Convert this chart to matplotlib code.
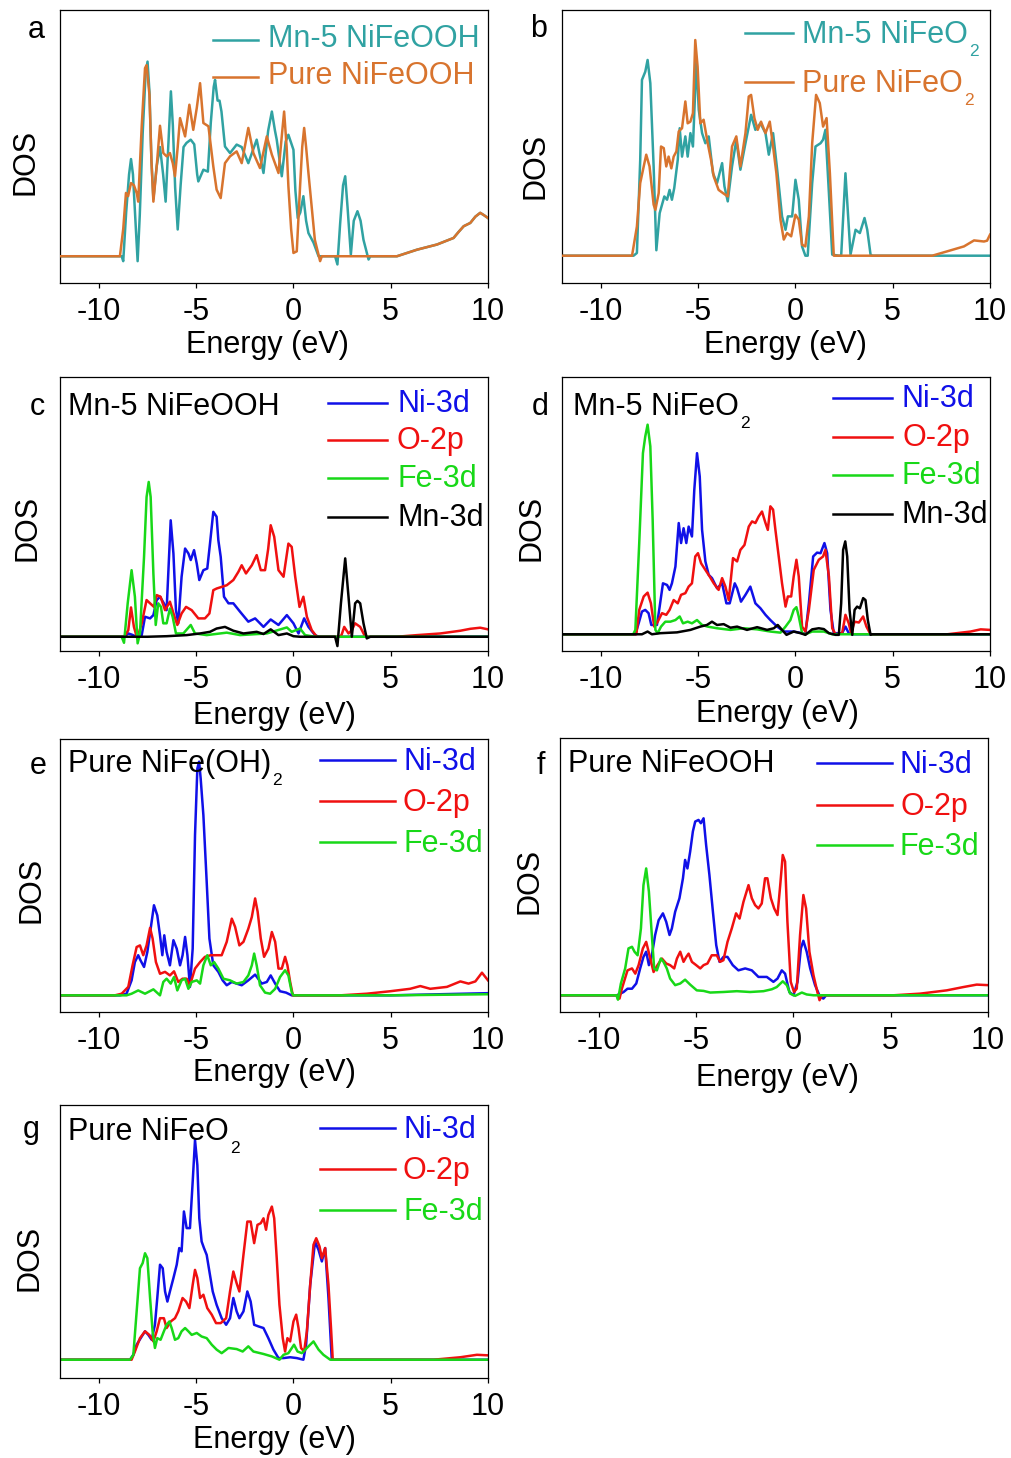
import matplotlib
matplotlib.use("Agg")
import matplotlib.pyplot as plt
from matplotlib.lines import Line2D

plt.rcParams['font.family'] = ['Liberation Sans', 'DejaVu Sans']
plt.rcParams['axes.unicode_minus'] = False

# ---------------- data (energy eV, DOS arb. units) ----------------
xticks = [-10, -5, 0, 5, 10]
xlim = (-12, 10)

a_mn5 = [(-12,0),(-8.83,0),(-8.75,-0.18),(-8.6,1.6),(-8.45,3.0),(-8.35,3.56),(-8.25,3.0),(-8.1,1.0),(-8.01,-0.18),(-7.9,1.5),(-7.75,4.5),(-7.6,6.7),(-7.5,7.13),(-7.4,6.0),(-7.3,3.5),(-7.2,2.1),(-7.03,3.3),(-6.86,4.0),(-6.7,3.0),(-6.57,2.0),(-6.45,3.8),(-6.3,6.04),(-6.2,4.8),(-6.08,2.5),(-5.95,0.98),(-5.8,2.6),(-5.65,4.0),(-5.5,4.15),(-5.28,4.27),(-5.1,4.1),(-4.95,3.0),(-4.89,2.74),(-4.63,3.17),(-4.4,3.1),(-4.25,4.88),(-4.1,6.2),(-4.03,6.46),(-3.9,5.7),(-3.8,5.7),(-3.7,5.3),(-3.52,4.02),(-3.26,3.78),(-2.92,4.09),(-2.66,4.0),(-2.32,3.41),(-1.89,4.27),(-1.54,3.05),(-1.3,4.6),(-1.11,5.3),(-0.95,4.6),(-0.86,4.27),(-0.6,2.93),(-0.4,4.2),(-0.26,4.45),(0,3.9),(0.1,2.4),(0.22,1.4),(0.35,1.6),(0.51,2.2),(0.65,1.3),(0.77,0.85),(1.03,0.5),(1.29,0),(2.14,0),(2.26,-0.3),(2.4,1.2),(2.55,2.6),(2.66,2.93),(2.78,1.8),(2.95,0.06),(3.1,1.3),(3.29,1.65),(3.45,1.3),(3.6,0.6),(3.86,-0.12),(3.95,0),(5.32,0),(6.35,0.24),(7.38,0.43),(8.23,0.67),(8.5,0.9),(8.75,1.1),(9.09,1.22),(9.35,1.45),(9.6,1.59),(9.8,1.5),(10,1.4)]
a_pure = [(-12,0),(-8.92,0),(-8.75,1.0),(-8.61,2.32),(-8.5,2.2),(-8.35,2.68),(-8.2,2.6),(-8.05,2.3),(-7.98,2.0),(-7.8,4.76),(-7.63,6.89),(-7.55,7.0),(-7.4,5.9),(-7.3,3.5),(-7.2,2.0),(-7.03,3.29),(-6.86,4.78),(-6.69,3.78),(-6.52,3.66),(-6.35,3.78),(-6.2,3.4),(-6.09,2.93),(-5.95,4.0),(-5.83,5.06),(-5.57,4.39),(-5.35,5.55),(-5.15,4.63),(-4.97,5.43),(-4.8,6.34),(-4.63,4.88),(-4.37,4.76),(-4.12,3.29),(-3.95,2.44),(-3.74,2.13),(-3.52,3.41),(-3.26,3.66),(-2.92,3.84),(-2.66,3.41),(-2.45,4.2),(-2.32,4.7),(-2.06,3.78),(-1.72,3.23),(-1.37,4.39),(-1.11,3.72),(-0.77,3.05),(-0.6,4.4),(-0.48,5.3),(-0.35,4.0),(-0.26,2.56),(-0.12,1.0),(0,0.12),(0.17,0.18),(0.34,2.56),(0.45,4.0),(0.55,4.7),(0.65,4.0),(0.77,3.05),(1.1,0.6),(1.37,-0.18),(1.46,0),(5.32,0),(6.35,0.24),(7.38,0.43),(8.23,0.67),(8.5,0.9),(8.75,1.1),(9.09,1.22),(9.35,1.45),(9.6,1.59),(9.8,1.5),(10,1.4)]

b_mn5 = [(-12,0),(-8.32,0),(-8.15,0.1),(-7.98,3.5),(-7.89,6.44),(-7.72,6.74),(-7.6,7.17),(-7.46,6.32),(-7.29,3.27),(-7.15,0.2),(-6.98,1.56),(-6.74,2.17),(-6.6,2.05),(-6.47,2.41),(-6.35,2.05),(-6.23,2.48),(-6.05,3.51),(-5.95,4.67),(-5.83,3.63),(-5.66,4.37),(-5.54,3.63),(-5.4,4.49),(-5.27,4.0),(-5.09,7.17),(-4.97,5.34),(-4.8,4.49),(-4.63,4.12),(-4.46,4.37),(-4.24,3.02),(-4.03,2.66),(-3.77,3.39),(-3.65,2.54),(-3.48,1.99),(-3.26,3.27),(-3.04,4.24),(-2.83,3.15),(-2.57,4.12),(-2.28,5.16),(-2.06,4.61),(-1.8,4.85),(-1.54,4.49),(-1.37,3.7),(-1.15,4.49),(-0.94,3.15),(-0.69,1.44),(-0.51,0.95),(-0.39,1.44),(-0.17,1.44),(0,2.78),(0.17,2.05),(0.34,0.34),(0.51,0),(0.63,0),(0.86,2.66),(1.03,4.0),(1.29,4.12),(1.42,4.25),(1.54,4.61),(1.72,2.29),(1.89,0.04),(2.23,0),(2.35,0),(2.57,3.02),(2.83,0.04),(3.09,0.95),(3.31,0.83),(3.55,1.38),(3.69,0.95),(3.86,0.04),(3.95,0),(10,0)]
b_pure = [(-12,0),(-8.4,0),(-8.15,1.07),(-7.98,2.66),(-7.8,3.27),(-7.67,3.7),(-7.5,3.27),(-7.29,1.87),(-7.2,1.68),(-7.03,2.29),(-6.91,4.0),(-6.77,3.94),(-6.64,3.27),(-6.52,3.63),(-6.38,3.2),(-6.26,3.63),(-6.12,3.82),(-6.0,4.55),(-5.83,4.67),(-5.66,5.65),(-5.54,4.85),(-5.4,4.91),(-5.27,5.22),(-5.15,7.9),(-5.03,6.93),(-4.89,4.85),(-4.72,4.98),(-4.51,4.12),(-4.34,3.51),(-4.2,2.9),(-3.95,2.41),(-3.72,2.29),(-3.48,2.17),(-3.26,4.0),(-3.04,4.37),(-2.83,3.27),(-2.57,4.49),(-2.4,5.83),(-2.28,5.89),(-2.11,5.04),(-1.94,4.61),(-1.77,4.91),(-1.54,4.49),(-1.32,4.91),(-1.15,4.0),(-0.98,3.02),(-0.77,1.32),(-0.6,0.59),(-0.43,0.83),(-0.22,0.71),(0,1.5),(0.17,1.32),(0.34,0.4),(0.51,0.34),(0.69,1.44),(0.86,4.12),(1.06,5.89),(1.25,5.59),(1.42,4.73),(1.6,5.04),(1.77,3.02),(1.97,0),(7.03,0),(7.8,0.16),(8.66,0.34),(9.18,0.56),(9.69,0.52),(9.85,0.55),(10,0.77)]

c_ni = [(-12,0),(-8.7,0),(-8.49,0.12),(-8.32,0.08),(-8.06,0),(-7.8,0.06),(-7.63,0.73),(-7.37,0.67),(-7.2,0.79),(-7.03,1.34),(-6.86,1.46),(-6.66,1.22),(-6.52,0.97),(-6.31,4.25),(-6.17,3.04),(-6.04,0.97),(-5.92,0.49),(-5.75,2.19),(-5.57,3.22),(-5.4,3.04),(-5.28,2.8),(-5.11,3.16),(-4.97,2.67),(-4.84,2.07),(-4.63,2.43),(-4.43,2.49),(-4.29,3.4),(-4.12,4.56),(-3.95,4.38),(-3.86,3.52),(-3.74,2.92),(-3.57,1.46),(-3.34,1.22),(-3.09,1.22),(-2.74,0.91),(-2.32,0.55),(-1.97,0.67),(-1.54,0.36),(-1.17,0.63),(-0.77,0.43),(-0.34,0.79),(0,0.49),(0.26,0.12),(0.55,0.67),(0.77,0.36),(1.11,0.06),(1.3,0),(10,0)]
c_o = [(-12,0),(-8.7,0),(-8.49,0.24),(-8.35,1.07),(-8.2,0.36),(-8.03,-0.06),(-7.8,0.49),(-7.55,1.34),(-7.37,1.22),(-7.17,1.09),(-7.03,1.52),(-6.83,1.46),(-6.6,0.97),(-6.35,1.28),(-6.14,0.79),(-5.97,0.43),(-5.75,0.85),(-5.52,1.09),(-5.23,0.97),(-4.89,0.67),(-4.55,0.67),(-4.32,0.85),(-4.12,1.7),(-3.95,1.76),(-3.69,1.82),(-3.43,1.88),(-3.09,2.07),(-2.83,2.37),(-2.66,2.61),(-2.44,2.31),(-2.14,2.61),(-1.89,2.98),(-1.68,2.43),(-1.46,2.43),(-1.3,3.2),(-1.17,4.07),(-0.99,3.65),(-0.77,2.43),(-0.51,2.19),(-0.26,3.4),(-0.09,3.28),(0.09,2.19),(0.31,1.09),(0.51,1.46),(0.69,0.73),(0.94,0.24),(1.2,0),(2.35,0),(2.47,0.06),(2.61,0.36),(2.83,0.12),(3.0,0.24),(3.17,0.49),(3.43,0.36),(3.69,0),(5.3,0),(6.35,0.06),(7.55,0.12),(8.58,0.22),(9.09,0.29),(9.6,0.33),(10,0.27)]
c_fe = [(-12,0),(-8.83,0),(-8.71,-0.22),(-8.52,1.22),(-8.32,2.43),(-8.15,1.46),(-8.01,-0.24),(-7.89,0.12),(-7.68,2.92),(-7.55,5.1),(-7.44,5.65),(-7.34,5.1),(-7.2,2.31),(-7.08,0.43),(-6.95,1.22),(-6.81,1.09),(-6.69,0.49),(-6.52,0.49),(-6.35,1.03),(-6.21,0.73),(-6.04,0.12),(-5.66,0.12),(-5.28,0.43),(-5.06,0.12),(-4.46,0.06),(-3.43,0.15),(-2.74,0.06),(-1.37,0.12),(-0.34,0.34),(-0.09,0.18),(0.34,0.3),(0.6,0.06),(1.11,0),(10,0)]
c_mn = [(-12,0),(-7.5,0),(-6.52,0.02),(-5.49,0.06),(-4.8,0.12),(-4.29,0.18),(-3.95,0.3),(-3.52,0.36),(-3.09,0.22),(-2.57,0.12),(-1.89,0.18),(-1.54,0.1),(-1.17,0.27),(-0.77,0.06),(-0.34,0.12),(0,0.02),(0.34,0),(2.14,0),(2.26,-0.34),(2.44,1.22),(2.66,2.86),(2.83,1.46),(3.0,0),(3.17,1.22),(3.29,1.31),(3.43,1.22),(3.6,0.49),(3.77,-0.06),(3.95,0),(10,0)]

d_ni = [(-12,0),(-8.23,0),(-8.06,0.4),(-7.89,0.83),(-7.72,0.89),(-7.55,0.77),(-7.41,0.34),(-7.12,0.34),(-6.98,1.01),(-6.81,1.86),(-6.6,1.8),(-6.47,1.62),(-6.35,1.86),(-6.17,2.47),(-6.0,4.06),(-5.88,3.33),(-5.75,3.87),(-5.61,3.33),(-5.49,3.93),(-5.32,3.57),(-5.2,5.27),(-5.06,6.61),(-4.92,5.76),(-4.8,3.81),(-4.63,2.66),(-4.46,2.17),(-4.29,2.05),(-4.03,1.68),(-3.77,1.86),(-3.55,1.13),(-3.38,1.13),(-3.12,1.86),(-3.0,1.68),(-2.8,1.19),(-2.57,1.44),(-2.32,1.74),(-2.06,1.13),(-1.8,0.95),(-1.54,0.71),(-1.29,0.52),(-0.94,0.28),(-0.6,0.1),(-0.09,0.1),(0.34,0.04),(0.51,0),(0.69,1.13),(0.91,2.84),(1.11,2.98),(1.29,2.96),(1.49,3.33),(1.63,2.96),(1.8,0.89),(1.97,0.04),(2.4,0.04),(2.57,0.28),(2.74,0.04),(2.9,0),(10,0)]
d_o = [(-12,0),(-8.18,0),(-8.03,0.89),(-7.8,1.38),(-7.6,1.52),(-7.43,1.13),(-7.26,0.28),(-7.08,0.46),(-6.86,0.77),(-6.64,0.71),(-6.47,0.89),(-6.26,1.25),(-6.05,1.13),(-5.88,1.44),(-5.66,1.5),(-5.49,1.74),(-5.32,1.86),(-5.15,2.84),(-5.01,2.96),(-4.85,2.59),(-4.63,2.35),(-4.41,2.11),(-4.2,1.86),(-3.95,1.62),(-3.77,2.05),(-3.6,1.74),(-3.43,1.25),(-3.21,2.78),(-3.0,2.66),(-2.83,3.08),(-2.62,3.26),(-2.4,3.93),(-2.23,4.12),(-2.06,4.06),(-1.89,4.3),(-1.72,4.48),(-1.54,4.06),(-1.42,3.81),(-1.29,4.67),(-1.15,4.55),(-1.03,3.81),(-0.86,2.84),(-0.69,1.86),(-0.51,1.01),(-0.39,1.38),(-0.22,1.38),(-0.09,2.11),(0.05,2.72),(0.17,2.11),(0.34,0.28),(0.51,0.1),(0.69,0.89),(0.94,2.35),(1.2,2.72),(1.42,2.84),(1.54,3.08),(1.72,2.11),(1.89,0.22),(2.06,0),(2.4,0.04),(2.57,0.71),(2.74,0.4),(2.86,0.04),(3.04,0.46),(3.26,0.43),(3.48,0.65),(3.65,0.28),(3.86,0),(7.8,0),(9.0,0.1),(9.52,0.18),(10,0.16)]
d_fe = [(-12,0),(-8.34,0),(-8.23,0.16),(-8.03,3.33),(-7.84,6.61),(-7.72,7.22),(-7.6,7.65),(-7.46,6.86),(-7.34,4.18),(-7.2,0.16),(-7.08,0.04),(-6.91,0.28),(-6.69,0.46),(-6.43,0.46),(-6.17,0.52),(-5.95,0.65),(-5.78,0.4),(-5.54,0.46),(-5.32,0.4),(-5.06,0.52),(-4.8,0.34),(-4.51,0.28),(-4.03,0.22),(-3.34,0.16),(-2.66,0.22),(-1.97,0.18),(-1.29,0.1),(-0.77,0.06),(-0.51,0.28),(-0.26,0.52),(-0.09,0.89),(0.05,0.99),(0.17,0.65),(0.34,0.04),(0.51,0),(0.86,0.1),(1.46,0.1),(1.89,0),(10,0)]
d_mn = [(-12,0),(-7.89,0),(-7.6,0.1),(-7.38,0),(-6.95,0.04),(-6.09,0.07),(-5.4,0.16),(-4.89,0.28),(-4.55,0.34),(-4.29,0.46),(-4.03,0.34),(-3.69,0.37),(-3.34,0.24),(-3.0,0.28),(-2.49,0.16),(-1.97,0.26),(-1.46,0.16),(-1.11,0.22),(-0.91,0.34),(-0.69,0.16),(-0.46,-0.02),(-0.09,0.1),(0.26,0.04),(0.51,-0.02),(0.86,0.18),(1.2,0.22),(1.46,0.19),(1.72,0.04),(2.06,-0.02),(2.23,-0.02),(2.35,1.13),(2.45,3.08),(2.56,3.39),(2.66,2.84),(2.78,0.89),(2.92,-0.02),(3.04,0.89),(3.17,1.01),(3.31,0.95),(3.48,1.32),(3.6,1.25),(3.72,0.52),(3.86,-0.02),(3.95,0),(10,0)]

e_ni = [(-12,0),(-8.92,0),(-8.58,0.06),(-8.32,0.55),(-8.15,1.22),(-7.98,1.47),(-7.86,1.28),(-7.68,1.04),(-7.51,1.59),(-7.34,2.44),(-7.17,3.3),(-7.0,2.93),(-6.86,2.2),(-6.74,1.47),(-6.64,2.2),(-6.52,1.59),(-6.35,1.1),(-6.17,2.02),(-6.0,1.71),(-5.83,1.1),(-5.7,1.47),(-5.57,2.14),(-5.45,1.47),(-5.32,0.31),(-5.18,1.71),(-5.06,5.87),(-4.94,8.31),(-4.85,8.56),(-4.77,7.95),(-4.63,6.6),(-4.46,4.16),(-4.32,2.08),(-4.12,1.1),(-3.86,0.86),(-3.64,0.55),(-3.43,0.37),(-3.17,0.49),(-2.92,0.43),(-2.66,0.37),(-2.32,0.55),(-1.97,0.76),(-1.63,0.43),(-1.37,0.49),(-1.17,0.73),(-0.94,0.43),(-0.69,0.15),(-0.38,0.1),(-0.09,0),(5.0,0),(7.5,0.04),(10,0.08)]
e_o = [(-12,0),(-9.18,0),(-8.83,0.06),(-8.49,0.31),(-8.27,1.1),(-8.06,1.77),(-7.89,1.83),(-7.72,1.47),(-7.55,1.83),(-7.37,2.47),(-7.24,2.08),(-7.07,1.22),(-6.86,0.79),(-6.6,0.86),(-6.35,0.73),(-6.14,0.88),(-5.92,0.49),(-5.7,0.61),(-5.49,0.61),(-5.32,0.37),(-5.06,0.98),(-4.8,1.22),(-4.55,1.41),(-4.25,1.47),(-3.95,1.47),(-3.69,1.47),(-3.43,1.96),(-3.17,2.81),(-3.0,2.51),(-2.78,1.83),(-2.57,1.96),(-2.32,2.44),(-2.14,2.87),(-1.97,3.55),(-1.84,3.06),(-1.68,2.08),(-1.51,1.41),(-1.29,1.71),(-1.11,2.32),(-0.94,1.96),(-0.77,0.98),(-0.6,0.98),(-0.43,1.41),(-0.31,1.1),(-0.17,0.49),(-0.03,0),(2.4,0),(3.77,0.06),(4.97,0.15),(6.0,0.24),(6.52,0.34),(7.03,0.24),(7.89,0.31),(8.58,0.51),(9.0,0.43),(9.35,0.51),(9.69,0.83),(10,0.55)]
e_fe = [(-12,0),(-8.58,0),(-8.32,0.06),(-7.98,0.18),(-7.63,0.06),(-7.2,0.22),(-6.86,0),(-6.69,0.49),(-6.52,0.61),(-6.31,0.43),(-6.14,0.67),(-5.97,0.18),(-5.75,0.55),(-5.57,0.61),(-5.4,0.24),(-5.23,0.49),(-4.97,0.55),(-4.8,0.43),(-4.63,1.1),(-4.43,1.47),(-4.25,1.1),(-4.08,1.22),(-3.86,0.98),(-3.6,0.61),(-3.26,0.55),(-2.92,0.43),(-2.57,0.49),(-2.32,0.73),(-2.14,1.1),(-2.02,1.53),(-1.89,1.1),(-1.72,0.37),(-1.46,0.1),(-1.2,0.06),(-0.94,0.24),(-0.69,0.67),(-0.43,0.92),(-0.26,0.73),(-0.09,0.12),(0,0),(5.0,0),(10,0.04)]

f_ni = [(-12,0),(-9.08,0),(-8.9,0.06),(-8.73,0.12),(-8.53,0.24),(-8.3,0.24),(-8.08,0.43),(-7.88,0.98),(-7.71,1.4),(-7.57,1.59),(-7.43,1.1),(-7.28,1.46),(-7.11,2.2),(-6.93,2.74),(-6.71,2.99),(-6.54,2.68),(-6.37,2.2),(-6.25,2.44),(-6.08,3.05),(-5.86,3.54),(-5.68,4.27),(-5.57,4.94),(-5.45,4.63),(-5.31,5.24),(-5.17,5.98),(-5.05,6.34),(-4.88,6.4),(-4.76,6.28),(-4.62,6.46),(-4.49,5.49),(-4.32,4.39),(-4.14,3.05),(-3.97,1.83),(-3.8,1.22),(-3.6,1.4),(-3.39,1.4),(-3.12,1.1),(-2.83,0.91),(-2.48,0.98),(-2.14,0.91),(-1.8,0.67),(-1.37,0.67),(-1.03,0.49),(-0.82,0.61),(-0.6,0.91),(-0.43,0.79),(-0.21,0.12),(0,0),(0.21,0.49),(0.38,1.71),(0.51,1.99),(0.68,1.59),(0.86,0.98),(1.11,0.37),(1.37,-0.06),(1.54,-0.12),(1.68,0),(10,0)]
f_o = [(-12,0),(-9.08,0),(-8.94,-0.12),(-8.82,0.24),(-8.53,0.91),(-8.3,0.98),(-8.13,0.79),(-7.96,1.1),(-7.74,1.71),(-7.57,1.95),(-7.4,1.46),(-7.19,0.85),(-6.99,1.1),(-6.76,1.34),(-6.54,1.16),(-6.34,1.1),(-6.13,0.98),(-5.99,1.34),(-5.82,1.59),(-5.65,1.22),(-5.51,1.4),(-5.39,1.52),(-5.22,1.22),(-5.0,1.1),(-4.79,0.98),(-4.62,1.1),(-4.42,1.16),(-4.2,1.46),(-3.94,1.46),(-3.77,1.22),(-3.6,1.28),(-3.39,1.95),(-3.17,2.44),(-2.95,2.99),(-2.77,2.8),(-2.57,3.41),(-2.31,4.02),(-2.14,3.54),(-1.97,3.29),(-1.8,3.17),(-1.63,3.35),(-1.46,4.27),(-1.34,4.27),(-1.16,3.54),(-0.99,3.17),(-0.82,2.93),(-0.68,4.02),(-0.55,5.12),(-0.43,4.88),(-0.31,2.68),(-0.14,0.49),(0.03,0.12),(0.17,0.24),(0.34,2.2),(0.51,3.66),(0.65,3.17),(0.82,1.59),(1.03,0.73),(1.23,0.12),(1.34,-0.18),(1.46,0),(5.14,0),(6.51,0.06),(7.88,0.18),(8.73,0.3),(9.42,0.39),(10,0.37)]
f_fe = [(-12,0),(-9.1,0),(-9.02,-0.16),(-8.87,0.43),(-8.65,0.98),(-8.48,1.71),(-8.3,1.77),(-8.17,1.59),(-8.01,1.46),(-7.84,2.44),(-7.71,4.02),(-7.57,4.63),(-7.43,3.78),(-7.28,2.2),(-7.16,0.98),(-7.02,0.91),(-6.82,1.34),(-6.68,1.22),(-6.51,0.98),(-6.34,0.61),(-6.08,0.37),(-5.82,0.43),(-5.57,0.57),(-5.31,0.39),(-4.97,0.18),(-4.62,0.16),(-4.28,0.1),(-3.6,0.12),(-2.91,0.15),(-2.23,0.12),(-1.54,0.15),(-1.11,0.22),(-0.86,0.3),(-0.55,0.51),(-0.34,0.37),(-0.17,0.06),(0.09,-0.02),(0.43,0.1),(0.68,0.03),(1.03,0),(10,0)]

g_ni = [(-12,0),(-8.4,0),(-8.23,0.18),(-8.06,0.55),(-7.8,0.85),(-7.63,1.04),(-7.46,0.91),(-7.29,0.73),(-7.12,1.28),(-7.0,2.26),(-6.86,3.48),(-6.72,3.35),(-6.6,2.5),(-6.48,2.13),(-6.35,2.5),(-6.17,2.99),(-6.0,3.48),(-5.87,4.09),(-5.75,3.97),(-5.63,5.43),(-5.49,4.82),(-5.32,4.82),(-5.18,6.52),(-5.06,8.05),(-4.94,7.13),(-4.84,5.18),(-4.72,4.33),(-4.6,4.09),(-4.46,3.84),(-4.32,3.23),(-4.15,2.5),(-3.95,2.01),(-3.69,1.52),(-3.46,1.28),(-3.26,1.52),(-3.09,2.26),(-2.92,1.77),(-2.78,1.52),(-2.57,1.77),(-2.37,2.5),(-2.2,2.13),(-2.02,1.28),(-1.8,1.22),(-1.54,1.16),(-1.29,0.79),(-1.03,0.37),(-0.77,0.06),(-0.51,0.06),(-0.17,0.09),(0.17,0.06),(0.51,0),(0.65,0.55),(0.86,2.74),(1.11,4.33),(1.29,4.02),(1.46,3.6),(1.63,4.09),(1.8,2.26),(1.97,0),(10,0)]
g_o = [(-12,0),(-8.32,0),(-8.15,0.3),(-7.89,0.79),(-7.63,1.04),(-7.41,0.91),(-7.2,0.67),(-7.03,1.04),(-6.86,1.52),(-6.66,1.52),(-6.52,1.16),(-6.31,1.4),(-6.09,1.52),(-5.92,1.77),(-5.7,2.26),(-5.52,2.13),(-5.35,1.89),(-5.18,2.74),(-5.06,3.29),(-4.94,2.99),(-4.8,2.26),(-4.63,2.38),(-4.43,1.89),(-4.2,1.65),(-3.98,1.34),(-3.74,1.34),(-3.46,1.52),(-3.26,2.5),(-3.09,3.23),(-2.92,2.8),(-2.78,2.5),(-2.57,3.84),(-2.37,5.06),(-2.2,5.06),(-2.02,4.27),(-1.85,4.94),(-1.68,5.0),(-1.54,5.18),(-1.41,4.76),(-1.29,5.3),(-1.11,5.61),(-0.99,5.18),(-0.86,3.72),(-0.72,2.01),(-0.55,0.79),(-0.43,0.3),(-0.31,0.79),(-0.17,0.67),(0,1.4),(0.14,1.65),(0.26,1.16),(0.39,0.43),(0.55,0.3),(0.69,1.04),(0.86,2.74),(1.03,4.21),(1.17,4.45),(1.34,4.15),(1.46,3.72),(1.63,4.09),(1.8,2.74),(1.94,1.04),(2.02,0),(7.2,0),(8.58,0.09),(9.43,0.18),(10,0.16)]
g_fe = [(-12,0),(-8.4,0),(-8.23,0.18),(-8.06,1.77),(-7.89,3.35),(-7.75,3.54),(-7.63,3.9),(-7.51,3.72),(-7.37,2.26),(-7.24,1.04),(-7.12,0.43),(-7.0,0.79),(-6.83,0.73),(-6.66,1.04),(-6.52,1.28),(-6.38,1.4),(-6.26,1.16),(-6.09,0.73),(-5.92,0.79),(-5.75,1.04),(-5.57,1.16),(-5.4,1.04),(-5.23,0.91),(-4.97,0.98),(-4.72,0.85),(-4.46,0.79),(-4.2,0.55),(-3.95,0.37),(-3.69,0.24),(-3.34,0.43),(-2.92,0.39),(-2.61,0.3),(-2.32,0.49),(-2.06,0.3),(-1.54,0.21),(-1.11,0.12),(-0.72,0),(-0.51,0.18),(-0.26,0.24),(0.03,0.55),(0.21,0.3),(0.43,0.24),(0.69,0.43),(1.03,0.67),(1.29,0.37),(1.54,0.18),(1.89,0),(10,0)]

# labels (main text, subscript)
lab_mn5_ooh = ('Mn-5 NiFeOOH', '')
lab_pure_ooh = ('Pure NiFeOOH', '')
lab_mn5_o2 = ('Mn-5 NiFeO', '2')
lab_pure_o2 = ('Pure NiFeO', '2')
lab_pure_oh2 = ('Pure NiFe(OH)', '2')
orb_labels = ['Ni-3d', 'O-2p', 'Fe-3d', 'Mn-3d']

# ---------------- style ----------------
TEAL = '#30a2a2'
ORANGE = '#d8742e'
BLUE = '#1010e8'
RED = '#f01010'
GREEN = '#18d818'
BLACK = '#000000'
FS = 22
SUBFS = 12.5
LW = 1.8

W, H = 1011, 1458
fig = plt.figure(figsize=(W / 100, H / 100), dpi=100)
renderer = fig.canvas.get_renderer()

def make_ax(l, t, r, b, ylim):
    ax = fig.add_axes([l / W, 1 - b / H, (r - l) / W, (b - t) / H])
    ax.set_xlim(*xlim)
    ax.set_ylim(*ylim)
    ax.set_xticks(xticks)
    ax.set_yticks([])
    ax.tick_params(axis='x', direction='out', length=3.8, width=0.9, pad=6.5, labelsize=FS)
    for s in ax.spines.values():
        s.set_linewidth(0.9)
    return ax

def curve(ax, pts, color, z=2):
    ax.plot([p[0] for p in pts], [p[1] for p in pts], color=color, lw=LW, zorder=z)

def ftext(x, y, s, color='black', fs=FS, **kw):
    return fig.text(x / W, 1 - y / H, s, color=color, fontsize=fs, **kw)

def subtext(x, y, lab, color='black'):
    main, sub = lab
    t = ftext(x, y, main, color, va='baseline', ha='left')
    if sub:
        bb = t.get_window_extent(renderer)
        ftext(bb.x1 + 1, y + 13, sub, color, fs=SUBFS, va='baseline', ha='left')

def legline(x0, x1, y, color):
    fig.add_artist(Line2D([x0 / W, x1 / W], [1 - y / H, 1 - y / H], transform=fig.transFigure,
                          color=color, lw=LW))

def decorate(letter, lx, lby, dosx, dosy, exc, eby):
    ftext(lx, lby, letter, va='baseline', ha='left')
    ftext(dosx, dosy, 'DOS', rotation=90, va='center', ha='center')
    ftext(exc, eby, 'Energy (eV)', va='baseline', ha='center')

# ---- panel a ----
ax = make_ax(60, 10, 488, 283, (-0.98, 9.02))
curve(ax, a_mn5, TEAL)
curve(ax, a_pure, ORANGE, 3)
legline(213, 258, 40, TEAL); subtext(268, 47, lab_mn5_ooh, TEAL)
legline(213, 258, 77, ORANGE); subtext(268, 84, lab_pure_ooh, ORANGE)
decorate('a', 28, 38, 25, 162, 267, 353)

# ---- panel b ----
ax = make_ax(562, 10, 990, 283, (-1.0, 9.0))
curve(ax, b_mn5, TEAL)
curve(ax, b_pure, ORANGE, 3)
legline(745, 793, 33, TEAL); subtext(802, 43, lab_mn5_o2, TEAL)
legline(745, 793, 82, ORANGE); subtext(802, 92, lab_pure_o2, ORANGE)
decorate('b', 530, 37, 536, 166, 785, 353)

# ---- panel c ----
ax = make_ax(60, 377, 488, 651, (-0.52, 9.48))
for pts, col in zip([c_ni, c_o, c_fe, c_mn], [BLUE, RED, GREEN, BLACK]):
    curve(ax, pts, col)
for lab, col, y in zip(orb_labels, [BLUE, RED, GREEN, BLACK], [403, 440, 478, 517]):
    legline(328, 387, y, col); ftext(397, y + 9, lab, col, va='baseline')
subtext(68, 415, lab_mn5_ooh)
decorate('c', 30, 415, 27, 528, 274, 724)

# ---- panel d ----
ax = make_ax(562, 377, 990, 651, (-0.61, 9.39))
for pts, col in zip([d_ni, d_o, d_fe, d_mn], [BLUE, RED, GREEN, BLACK]):
    curve(ax, pts, col)
for lab, col, y in zip(orb_labels, [BLUE, RED, GREEN, BLACK], [398, 437, 475, 514]):
    legline(833, 892, y, col); ftext(902, y + 9, lab, col, va='baseline')
subtext(573, 415, lab_mn5_o2)
decorate('d', 532, 415, 532, 528, 777, 722)

# ---- panel e ----
ax = make_ax(60, 739, 488, 1012, (-0.61, 9.39))
for pts, col in zip([e_ni, e_o, e_fe], [BLUE, RED, GREEN]):
    curve(ax, pts, col)
for lab, col, y in zip(orb_labels[:3], [BLUE, RED, GREEN], [760, 801, 842]):
    legline(320, 395, y, col); ftext(403, y + 10, lab, col, va='baseline')
subtext(68, 772, lab_pure_oh2)
decorate('e', 30, 774, 32, 890, 274, 1081)

# ---- panel f ----
ax = make_ax(560, 738, 988, 1012, (-0.61, 9.39))
for pts, col in zip([f_ni, f_o, f_fe], [BLUE, RED, GREEN]):
    curve(ax, pts, col)
for lab, col, y in zip(orb_labels[:3], [BLUE, RED, GREEN], [763, 805, 845]):
    legline(817, 892, y, col); ftext(900, y + 10, lab, col, va='baseline')
subtext(568, 772, lab_pure_ooh)
decorate('f', 537, 774, 529, 881, 777, 1086)

# ---- panel g ----
ax = make_ax(60, 1105, 488, 1378, (-0.67, 9.33))
for pts, col in zip([g_ni, g_o, g_fe], [BLUE, RED, GREEN]):
    curve(ax, pts, col)
for lab, col, y in zip(orb_labels[:3], [BLUE, RED, GREEN], [1128, 1169, 1210]):
    legline(320, 395, y, col); ftext(403, y + 10, lab, col, va='baseline')
subtext(68, 1140, lab_pure_o2)
decorate('g', 23, 1138, 30, 1258, 274, 1448)

fig.savefig('out.png', dpi=100)
